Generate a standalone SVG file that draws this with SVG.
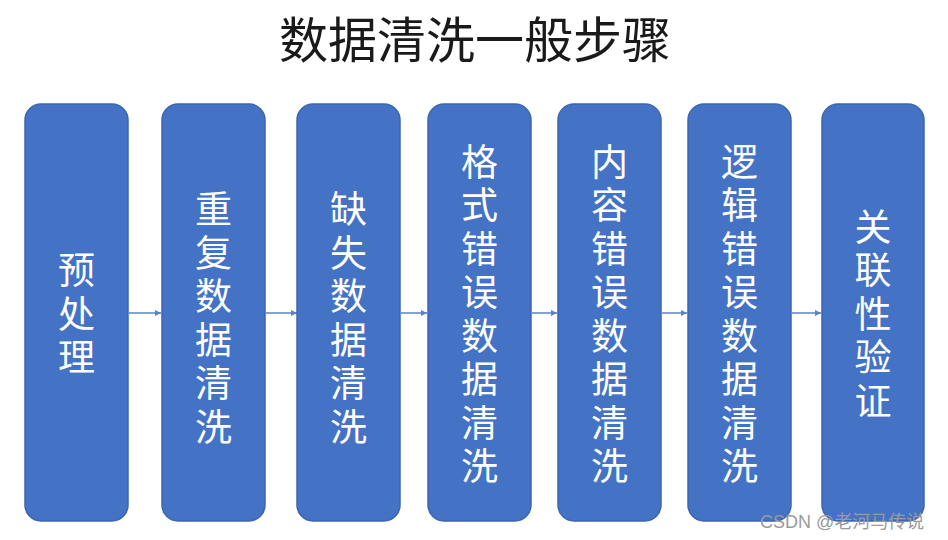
<svg xmlns="http://www.w3.org/2000/svg" width="948" height="540" viewBox="0 0 948 540">
<defs>
<style>
.box{fill:#4472C4;stroke:#3d66b0;stroke-width:1.5}
.lbl{font-family:"Noto Sans CJK SC","Noto Sans",sans-serif;font-size:37px;fill:#ffffff;text-anchor:middle;writing-mode:vertical-rl;letter-spacing:6.5px}
.title{font-family:"Noto Sans CJK SC","Noto Sans",sans-serif;font-size:49px;fill:#1a1a1a;text-anchor:middle}
.conn{stroke:#5b82c6;stroke-width:1.5;fill:none;marker-end:url(#ah)}
.wm{font-family:"Liberation Sans","Noto Sans CJK SC",sans-serif;font-size:18px;fill:#9a9a9a}
</style>
<marker id="ah" viewBox="0 0 10 10" refX="10" refY="5" markerWidth="6" markerHeight="6" orient="auto" markerUnits="userSpaceOnUse">
<path d="M0,0 L10,5 L0,10 z" fill="#5b82c6"/>
</marker>
</defs>
<rect width="948" height="540" fill="#ffffff"/>
<text class="title" x="475" y="58">数据清洗一般步骤</text>
<g id="connectors">
<line class="conn" x1="129" y1="313" x2="161" y2="313"/>
<line class="conn" x1="266" y1="313" x2="297" y2="313"/>
<line class="conn" x1="401" y1="313" x2="427" y2="313"/>
<line class="conn" x1="532" y1="313" x2="557" y2="313"/>
<line class="conn" x1="662" y1="313" x2="687" y2="313"/>
<line class="conn" x1="792" y1="313" x2="821" y2="313"/>
</g>
<g id="n1"><rect class="box" x="25" y="104" width="103" height="417" rx="16"/>
<text class="lbl" x="76.5" y="317">预处理</text></g>
<g id="n2"><rect class="box" x="162" y="104" width="103" height="417" rx="16"/>
<text class="lbl" x="213.5" y="321">重复数据清洗</text></g>
<g id="n3"><rect class="box" x="297" y="104" width="103" height="417" rx="16"/>
<text class="lbl" x="348.5" y="321">缺失数据清洗</text></g>
<g id="n4"><rect class="box" x="428" y="104" width="103" height="417" rx="16"/>
<text class="lbl" x="479.5" y="317">格式错误数据清洗</text></g>
<g id="n5"><rect class="box" x="558" y="104" width="103" height="417" rx="16"/>
<text class="lbl" x="609.5" y="317">内容错误数据清洗</text></g>
<g id="n6"><rect class="box" x="688" y="104" width="103" height="417" rx="16"/>
<text class="lbl" x="739.5" y="317">逻辑错误数据清洗</text></g>
<g id="n7"><rect class="box" x="822" y="104" width="102" height="417" rx="16"/>
<text class="lbl" x="873" y="317">关联性验证</text></g>
<text class="wm" x="760" y="528">CSDN @老河马传说</text>
</svg>
